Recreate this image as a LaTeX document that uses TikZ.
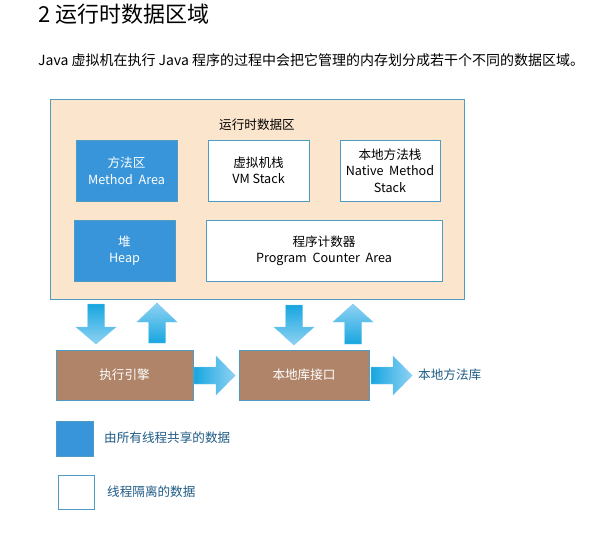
\documentclass[tikz,border=0pt]{standalone}
\usepackage{fontspec}
\setmainfont{Noto Sans CJK SC}
\definecolor{peach}{HTML}{FCE5CD}
\definecolor{edge}{HTML}{4F9CC2}
\definecolor{shared}{HTML}{3895D9}
\definecolor{brownbox}{HTML}{AF8469}
\definecolor{legendtxt}{HTML}{1F5A85}
\definecolor{arrdark}{HTML}{17A6E0}
\definecolor{arrlight}{HTML}{8FD2F3}
\definecolor{arredge}{HTML}{7CC8EE}
\newcommand{\boxfont}{\fontsize{12.6}{16.5}\selectfont}
\tikzset{
  base/.style={rectangle, draw=edge, line width=0.8pt, align=center, inner sep=0pt, font=\boxfont},
  sharedbox/.style={base, fill=shared, text=white},
  privbox/.style={base, fill=white, text=black},
  enginebox/.style={base, fill=brownbox, text=white},
  blockarr/.style={draw=arredge, line width=0.4pt},
}
% down block arrow: #1 centre x, #2 top y, #3 neck y, #4 tip y
\newcommand{\dArr}[4]{%
  \path[blockarr, shade, top color=arrdark, bottom color=arrlight] (#1-8.5,#2) -- (#1+8.5,#2) -- (#1+8.5,#3) -- (#1+20,#3) -- (#1,#4) -- (#1-20,#3) -- (#1-8.5,#3) -- cycle;}
% up block arrow: #1 centre x, #2 bottom y, #3 neck y, #4 tip y
\newcommand{\uArr}[4]{%
  \path[blockarr, shade, top color=arrlight, bottom color=arrdark] (#1-8.5,#2) -- (#1+8.5,#2) -- (#1+8.5,#3) -- (#1+20,#3) -- (#1,#4) -- (#1-20,#3) -- (#1-8.5,#3) -- cycle;}
% right block arrow: #1 centre y, #2 start x, #3 neck x, #4 tip x
\newcommand{\hArr}[4]{%
  \path[blockarr, shade, left color=arrdark, right color=arrlight] (#2,#1-8.5) -- (#3,#1-8.5) -- (#3,#1-19.5) -- (#4,#1) -- (#3,#1+19.5) -- (#3,#1+8.5) -- (#2,#1+8.5) -- cycle;}
\begin{document}
\begin{tikzpicture}[x=1pt, y=-1pt]
\useasboundingbox (0,0) rectangle (597,538);

\node[anchor=base west, inner sep=0pt, font=\fontsize{22}{25}\selectfont] (title) at (38,22) {2\hspace{5pt}运行时数据区域};
\node[anchor=base west, inner sep=0pt, font=\fontsize{14}{16}\selectfont] (intro) at (38,65) {Java 虚拟机在执行 Java 程序的过程中会把它管理的内存划分成若干个不同的数据区域。};

% outer runtime data area
\node[base, fill=peach, minimum width=414pt, minimum height=200pt] (rt) at (257.5,199) {};
\node[inner sep=0pt, font=\boxfont] (rtlabel) at (257,125) {运行时数据区};

\node[sharedbox, minimum width=101pt, minimum height=61pt] (method) at (126.5,170.5) {方法区\\Method\ \ Area};
\node[privbox, minimum width=101pt, minimum height=61pt] (vm) at (258.5,170.5) {虚拟机栈\\VM Stack};
\node[privbox, minimum width=100pt, minimum height=61pt] (native) at (390,170.5) {本地方法栈\\Native\ \ Method\\Stack};
\node[sharedbox, minimum width=101pt, minimum height=61pt] (heap) at (124.5,250.5) {堆\\Heap};
\node[privbox, minimum width=236pt, minimum height=61pt] (pc) at (324,250.5) {程序计数器\\Program\ \ Counter\ \ Area};

% engines
\node[enginebox, minimum width=137pt, minimum height=50pt] (engine) at (124.5,375) {执行引擎};
\node[enginebox, minimum width=130pt, minimum height=50pt] (nif) at (304,375) {本地库接口};
\node[anchor=west, inner sep=0pt, font=\boxfont, text=legendtxt] (nlib) at (418,375) {本地方法库};

% block arrows
\dArr{96}{304}{327}{344}
\uArr{157}{343}{322}{303}
\dArr{294}{305}{327}{345}
\uArr{353}{344}{322}{304}
\hArr{375.5}{194}{216}{235}
\hArr{375.5}{371}{393}{412}

% legend
\node[base, fill=shared, minimum width=37pt, minimum height=35pt] (lshared) at (74.5,438.5) {};
\node[anchor=west, inner sep=0pt, font=\boxfont, text=legendtxt] (lsharedtxt) at (104,438) {由所有线程共享的数据};
\node[base, fill=white, minimum width=36pt, minimum height=34pt] (lpriv) at (76,492) {};
\node[anchor=west, inner sep=0pt, font=\boxfont, text=legendtxt] (lprivtxt) at (107,492) {线程隔离的数据};
\end{tikzpicture}
\end{document}
